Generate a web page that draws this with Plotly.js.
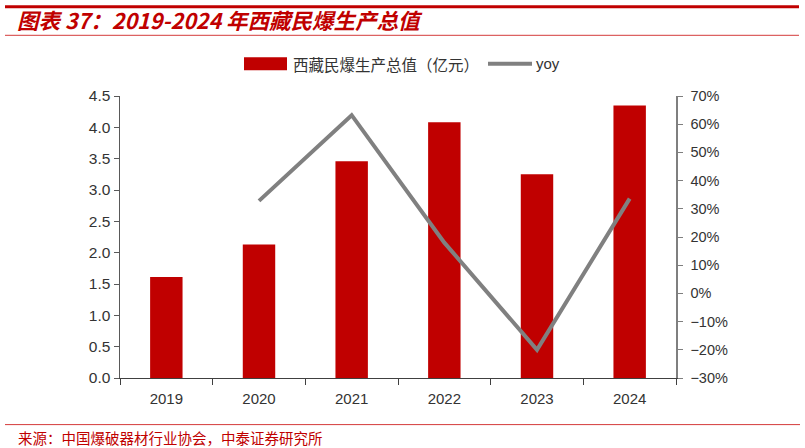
<!DOCTYPE html>
<html>
<head>
<meta charset="utf-8">
<script src="https://cdn.plot.ly/plotly-3.0.1.min.js"></script>
<style>html,body{margin:0;padding:0;background:#fff;}#chart{width:805px;height:448px;}</style>
</head>
<body>
<div id="chart"></div>
<script>
const years = ['2019', '2020', '2021', '2022', '2023', '2024'];
const outputValue = [1.61, 2.13, 3.46, 4.08, 3.25, 4.35];
const yoyYears = ['2020', '2021', '2022', '2023', '2024'];
const yoyPct = [32.8, 63.2, 18.0, -20.0, 33.6];
const leftTicks = [0, 0.5, 1, 1.5, 2, 2.5, 3, 3.5, 4, 4.5];
const rightTicks = [-30, -20, -10, 0, 10, 20, 30, 40, 50, 60, 70];
const seriesNames = ['西藏民爆生产总值（亿元）', 'yoy'];

const red = '#C00000';
const cjk = '"Noto Sans CJK SC", "Liberation Sans", sans-serif';
const latin = '"Liberation Sans", Arial, sans-serif';

// pixel -> paper helpers (plot area: x 120..676, y 95.7..377.7)
const px = v => (v - 120) / 556;
const py = v => (377.7 - v) / 282;

const traces = [
  {
    type: 'bar', name: seriesNames[0], x: years, y: outputValue,
    marker: {color: red}, width: 0.35, yaxis: 'y', showlegend: false
  },
  {
    type: 'scatter', mode: 'lines', name: seriesNames[1], x: yoyYears, y: yoyPct,
    line: {color: '#808080', width: 4}, yaxis: 'y2', showlegend: false
  }
];

const layout = {
  width: 805, height: 448,
  margin: {l: 120, r: 129, t: 96, b: 70, pad: 0},
  paper_bgcolor: '#fff', plot_bgcolor: '#fff',
  title: {
    text: '<b><i>图表 37：2019-2024 年西藏民爆生产总值</i></b>',
    font: {family: cjk, size: 21.5, color: red},
    x: 17 / 805, xanchor: 'left', xref: 'container',
    y: 1 - 21 / 448, yanchor: 'middle', yref: 'container'
  },
  showlegend: false,
  xaxis: {
    type: 'category', categoryarray: years, tickson: 'boundaries',
    ticks: 'outside', ticklen: 6, tickcolor: '#404040', tickwidth: 1,
    showline: true, linecolor: '#404040', linewidth: 1.2,
    showgrid: false, zeroline: false, ticklabelstandoff: 7,
    tickfont: {family: latin, size: 15, color: '#333'}
  },
  yaxis: {
    range: [0, 4.5], tickmode: 'array', tickvals: leftTicks,
    ticktext: leftTicks.map(v => v.toFixed(1)),
    ticks: 'outside', ticklen: 5, tickcolor: '#595959',
    showline: true, linecolor: '#595959', linewidth: 1.5,
    showgrid: false, zeroline: false,
    tickfont: {family: latin, size: 15.5, color: '#333'}
  },
  yaxis2: {
    range: [-30, 70], tickmode: 'array', tickvals: rightTicks,
    ticktext: rightTicks.map(v => (v < 0 ? '\u2212' + Math.abs(v) : String(v)) + '%'),
    overlaying: 'y', side: 'right',
    ticks: 'outside', ticklen: 5, tickcolor: '#7f7f7f',
    showline: true, linecolor: '#7f7f7f', linewidth: 1.5,
    showgrid: false, zeroline: false, ticklabelstandoff: 5,
    tickfont: {family: latin, size: 14.5, color: '#333'}
  },
  shapes: [
    {type: 'line', xref: 'paper', yref: 'paper', x0: px(5), x1: px(799),
     y0: py(6.5), y1: py(6.5), line: {color: red, width: 3}},
    {type: 'line', xref: 'paper', yref: 'paper', x0: px(5), x1: px(799),
     y0: py(35), y1: py(35), line: {color: '#D43B3B', width: 1}},
    {type: 'line', xref: 'paper', yref: 'paper', x0: px(5), x1: px(800),
     y0: py(424.3), y1: py(424.3), line: {color: '#D43B3B', width: 1}},
    // legend symbols
    {type: 'rect', xref: 'paper', yref: 'paper', x0: px(244), x1: px(287),
     y0: py(70), y1: py(57), fillcolor: red, line: {width: 0}},
    {type: 'line', xref: 'paper', yref: 'paper', x0: px(488), x1: px(532),
     y0: py(63.5), y1: py(63.5), line: {color: '#808080', width: 4}}
  ],
  annotations: [
    {text: seriesNames[0], xref: 'paper', yref: 'paper',
     x: px(291), xanchor: 'left', y: py(63.5), yanchor: 'middle',
     showarrow: false, font: {family: cjk, size: 15.5, color: '#333'}},
    {text: seriesNames[1], xref: 'paper', yref: 'paper',
     x: px(534), xanchor: 'left', y: py(63.5), yanchor: 'middle',
     showarrow: false, font: {family: latin, size: 15, color: '#333'}},
    {text: '来源：中国爆破器材行业协会，中泰证券研究所', xref: 'paper', yref: 'paper',
     x: px(16), xanchor: 'left', y: py(437), yanchor: 'middle',
     showarrow: false, font: {family: cjk, size: 14.5, color: red}}
  ]
};

Plotly.newPlot('chart', traces, layout, {displayModeBar: false, responsive: false, staticPlot: true});
</script>
</body>
</html>
